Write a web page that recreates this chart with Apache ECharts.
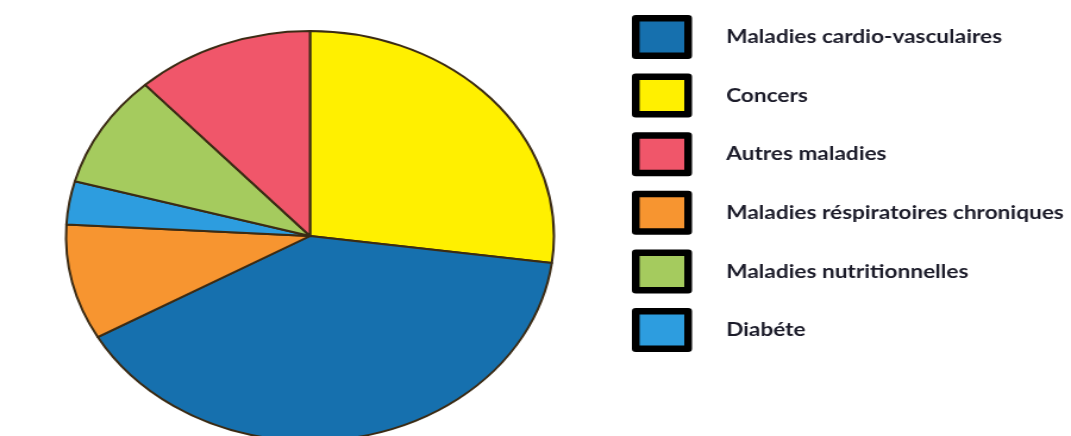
<!DOCTYPE html>
<html>
<head>
<meta charset="utf-8">
<script src="https://cdn.jsdelivr.net/npm/echarts@6/dist/echarts.min.js"></script>
<style>
  html, body { margin: 0; padding: 0; background: #fff; }
  #wrap { position: relative; width: 1071px; height: 436px; overflow: hidden; }
  /* the original picture is stretched sideways, pie and text alike */
  #chart { position: absolute; left: 0; top: 0; width: 900px; height: 436px;
           transform: scaleX(1.19); transform-origin: 0 0; }
</style>
</head>
<body>
<div id="wrap">
  <div id="chart"></div>
</div>
<script>
// slices in drawing order (clockwise from 12 o'clock)
const names = ['Concers', 'Maladies cardio-vasculaires', 'Maladies réspiratoires chroniques',
  'Diabéte', 'Maladies nutritionnelles', 'Autres maladies'];
const values = [27.1, 39.7, 9.1, 3.4, 8.9, 11.8];
const colors = ['#fff000', '#1670ae', '#f79530', '#2d9ddf', '#a5cb5e', '#f0566a'];

// legend order as in the picture
const legendOrder = ['Maladies cardio-vasculaires', 'Concers', 'Autres maladies',
  'Maladies réspiratoires chroniques', 'Maladies nutritionnelles', 'Diabéte'];

const chart = echarts.init(document.getElementById('chart'));

chart.setOption({
  animation: false,
  legend: {
    orient: 'vertical',
    left: 531,
    top: 15,
    padding: 0,
    icon: 'rect',
    itemWidth: 44,
    itemHeight: 37.5,
    itemGap: 14.6,
    itemStyle: { borderColor: '#000', borderWidth: 6.5 },
    textStyle: {
      fontFamily: 'Lato',
      fontWeight: 'bold',
      fontSize: 19,
      color: '#1c1c2a',
      padding: [0, 0, 12, 27]
    },
    data: legendOrder
  },
  series: [{
    type: 'pie',
    center: [260.5, 236],
    radius: 205,
    startAngle: 90,
    clockwise: true,
    label: { show: false },
    labelLine: { show: false },
    itemStyle: { borderColor: '#3b2b14', borderWidth: 2 },
    data: names.map((n, i) => ({
      name: n,
      value: values[i],
      itemStyle: { color: colors[i] }
    }))
  }]
});
</script>
</body>
</html>
